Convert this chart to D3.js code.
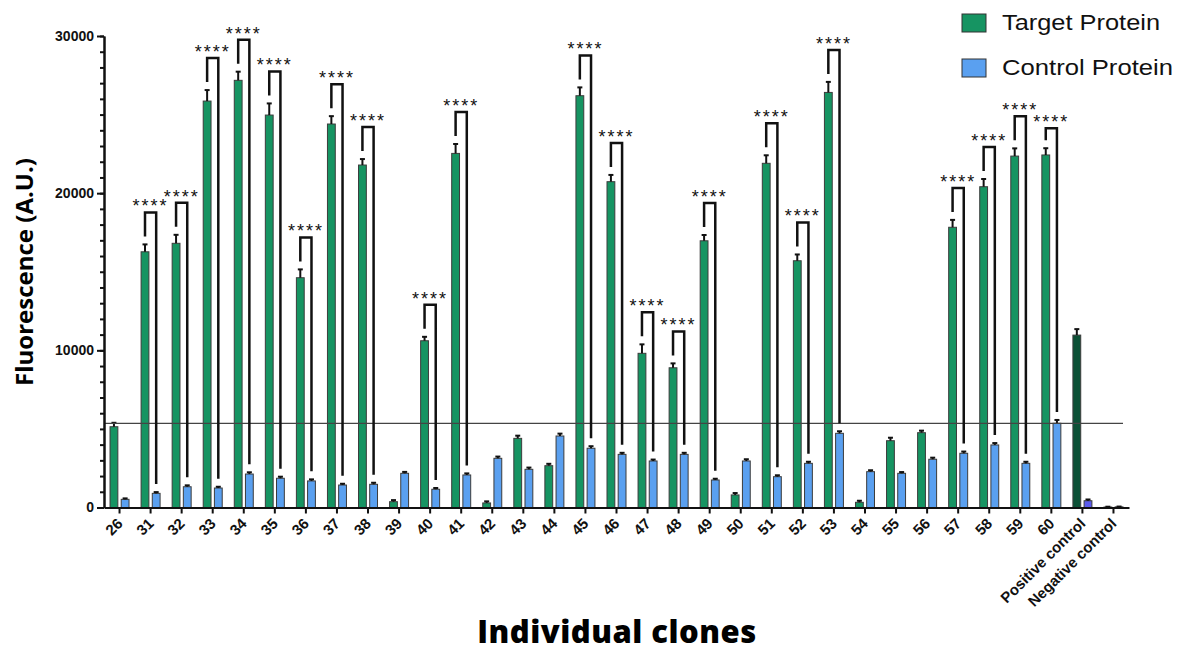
<!DOCTYPE html>
<html>
<head>
<meta charset="UTF-8">
<title>Fluorescence</title>
<script src="https://cdn.jsdelivr.net/npm/d3@7/dist/d3.min.js"></script>
<style type="text/css">
body { margin: 0; background: #fff; }
svg { display: block; }
.tick text { font: bold 15px "Liberation Sans", Arial, sans-serif; fill: #111; }
.axis path, .axis line { stroke: #111; stroke-width: 2; }
.stars { font: 18px "Liberation Sans", Arial, sans-serif; fill: #111; text-anchor: middle; letter-spacing: 2px; }
</style>
</head>
<body>
<div class="chart"></div>
<script>
// values
var categories = ["26","31","32","33","34","35","36","37","38","39","40","41","42","43","44",
  "45","46","47","48","49","50","51","52","53","54","55","56","57","58","59","60",
  "Positive control","Negative control"];
var target    = [5140,16270,16810,25860,27180,24970,14620,24400,21790,370,10610,22530,290,4400,2660,
  26200,20730,9810,8890,16970,800,21900,15700,26410,330,4250,4760,17830,20410,22360,22430,10970,30];
var targetErr = [250,470,540,700,550,740,530,500,380,100,250,600,100,170,120,
  530,430,570,280,370,120,510,400,670,100,190,130,470,490,490,430,380,20];
var control    = [520,900,1320,1240,2130,1860,1690,1430,1475,2175,1160,2070,3130,2430,4550,
  3770,3380,2960,3380,1750,2960,1960,2810,4720,2280,2175,3070,3450,3980,2810,5360,430,40];
var controlErr = [60,80,90,80,110,100,100,80,100,90,80,100,110,110,150,
  130,100,90,100,80,110,90,100,130,90,80,100,110,120,100,210,80,20];
var significant = ["31","32","33","34","35","36","37","38","40","41","45","46","47","48","49",
  "51","52","53","57","58","59","60"];
var threshold = 5350;
var yTicks = [0, 10000, 20000, 30000];
var seriesNames = ["Target Protein", "Control Protein"];

var width = 1181, height = 653;
var mLeft = 104, mRight = 1129, mTop = 36, mBottom = 507.5;

var svg = d3.select(".chart").append("svg")
  .attr("width", width).attr("height", height);

var x0 = d3.scaleBand().domain(categories).range([mLeft, mRight]).padding(0);
var x1 = d3.scaleBand().domain(["t", "c"])
  .range([x0.bandwidth() / 2 - 9.5, x0.bandwidth() / 2 + 9.5]).paddingInner(0.3);
var y = d3.scaleLinear().domain([0, 30000]).range([mBottom, mTop]);

var green = "#169462", blue = "#5aa0f0";
var greenPos = "#0c5136", bluePos = "#5b5bee";

function fillT(d, i) { return categories[i] === "Positive control" ? greenPos : green; }
function fillC(d, i) { return categories[i] === "Positive control" ? bluePos : blue; }

// bars
var g = svg.append("g");
g.selectAll(".bt").data(target).enter().append("rect")
  .attr("x", function (d, i) { return x0(categories[i]) + x1("t"); })
  .attr("y", function (d) { return y(d); })
  .attr("width", x1.bandwidth())
  .attr("height", function (d) { return y(0) - y(d); })
  .attr("fill", fillT).attr("stroke", "#3c3c3c").attr("stroke-width", 1);
g.selectAll(".bc").data(control).enter().append("rect")
  .attr("x", function (d, i) { return x0(categories[i]) + x1("c"); })
  .attr("y", function (d) { return y(d); })
  .attr("width", x1.bandwidth())
  .attr("height", function (d) { return y(0) - y(d); })
  .attr("fill", fillC).attr("stroke", "#3c3c3c").attr("stroke-width", 1);

// error bars (upper only)
function errBars(vals, errs, key) {
  vals.forEach(function (v, i) {
    var cx = x0(categories[i]) + x1(key) + x1.bandwidth() / 2;
    g.append("line").attr("x1", cx).attr("x2", cx)
      .attr("y1", y(v)).attr("y2", y(v + errs[i]))
      .attr("stroke", "#111").attr("stroke-width", 2);
    g.append("line").attr("x1", cx - 2.5).attr("x2", cx + 2.5)
      .attr("y1", y(v + errs[i])).attr("y2", y(v + errs[i]))
      .attr("stroke", "#111").attr("stroke-width", 2);
  });
}
errBars(target, targetErr, "t");
errBars(control, controlErr, "c");

// threshold line
svg.append("line")
  .attr("x1", mLeft).attr("x2", 1123)
  .attr("y1", y(threshold)).attr("y2", y(threshold))
  .attr("stroke", "#444").attr("stroke-width", 1.3);

// significance brackets
var prev = null;
significant.forEach(function (c) {
  var i = categories.indexOf(c);
  var xl = x0(c) + x1("t") + x1.bandwidth() / 2;
  var xr = x0(c) + x1("c") + x1.bandwidth() / 2;
  var tTop = y(target[i] + targetErr[i]);
  var cTop = y(control[i] + controlErr[i]);
  var by = tTop - 32;
  // neighbour at nearly the same height: drop this one a little so stars don't collide
  if (prev && prev.i === i - 1 && Math.abs(by - prev.by) < 5) by = prev.by + 12;
  prev = { i: i, by: by };
  svg.append("path")
    .attr("d", "M" + xl + "," + (tTop - 8) + "V" + by + "H" + xr + "V" + (cTop - 8))
    .attr("fill", "none").attr("stroke", "#111").attr("stroke-width", 2.5);
  svg.append("text").attr("class", "stars")
    .attr("x", (xl + xr) / 2).attr("y", by)
    .text("****");
});

// axes
var yAxis = svg.append("g").attr("class", "axis")
  .attr("transform", "translate(" + mLeft + ",0)")
  .call(d3.axisLeft(y).tickValues(yTicks).tickSize(7).tickSizeOuter(0).tickFormat(d3.format("d")));
yAxis.selectAll("text").attr("x", -10).style("font-size", "14px");
svg.append("g").attr("class", "axis")
  .attr("transform", "translate(" + mLeft + ",0)")
  .call(d3.axisLeft(y).tickValues(d3.range(0, 30001, 1000)).tickSize(4).tickSizeOuter(0).tickFormat(""));

var xAxis = svg.append("g").attr("class", "axis")
  .attr("transform", "translate(0," + mBottom + ")")
  .call(d3.axisBottom(x0).tickSize(6).tickSizeOuter(0));
xAxis.selectAll("text")
  .attr("text-anchor", "end")
  .attr("dy", null).attr("y", 0).attr("x", 0)
  .attr("transform", "translate(4,17) rotate(-45)");

// axis titles
svg.append("text")
  .attr("transform", "translate(33,272) rotate(-90)")
  .attr("text-anchor", "middle")
  .style("font", "bold 24px 'Open Sans', sans-serif")
  .text("Fluorescence (A.U.)");
svg.append("text")
  .attr("x", 617).attr("y", 643)
  .attr("text-anchor", "middle")
  .style("font", "800 31px 'Open Sans', sans-serif")
  .style("letter-spacing", "0.5px")
  .text("Individual clones");

// legend
var legend = svg.append("g");
var legendWidths = [158, 171];
[green, blue].forEach(function (col, i) {
  legend.append("rect")
    .attr("x", 962).attr("y", 14 + i * 45)
    .attr("width", 24).attr("height", 18)
    .attr("fill", col).attr("stroke", "#333").attr("stroke-width", 1);
  legend.append("text")
    .attr("x", 1002).attr("y", 30 + i * 45)
    .style("font", "22px 'Liberation Sans', Arial, sans-serif")
    .attr("textLength", legendWidths[i])
    .attr("lengthAdjust", "spacingAndGlyphs")
    .attr("fill", "#111")
    .text(seriesNames[i]);
});
</script>
</body>
</html>
